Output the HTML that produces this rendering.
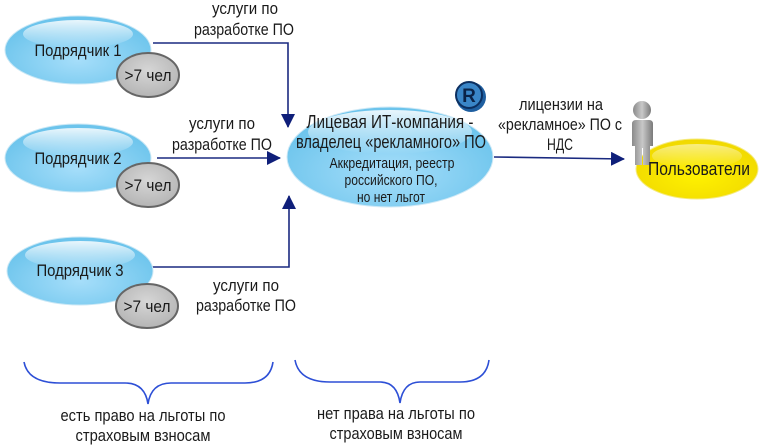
<!DOCTYPE html>
<html><head><meta charset="utf-8"><style>
html,body{margin:0;padding:0;background:#fff;}
svg{display:block;}
text{font-family:"Liberation Sans",sans-serif;fill:#1a1a1a;}
</style></head><body>
<svg width="768" height="448" viewBox="0 0 768 448" xmlns="http://www.w3.org/2000/svg">
<defs>
<radialGradient id="blue" cx="50%" cy="65%" r="60%">
<stop offset="0" stop-color="#a6defa"/><stop offset="1" stop-color="#6cc4ec"/></radialGradient>
<linearGradient id="gloss" x1="0" y1="0" x2="0" y2="1">
<stop offset="0" stop-color="#fff" stop-opacity="0.85"/><stop offset="1" stop-color="#fff" stop-opacity="0"/></linearGradient>
<radialGradient id="yel" cx="50%" cy="60%" r="60%">
<stop offset="0" stop-color="#fff200"/><stop offset="1" stop-color="#f0d800"/></radialGradient>
<radialGradient id="gray" cx="50%" cy="40%" r="60%">
<stop offset="0" stop-color="#d6d6d6"/><stop offset="1" stop-color="#b5b5b5"/></radialGradient>
<linearGradient id="body" x1="0" y1="0" x2="1" y2="0">
<stop offset="0" stop-color="#8a8a8a"/><stop offset="0.5" stop-color="#c8c8c8"/><stop offset="1" stop-color="#7a7a7a"/></linearGradient>
<marker id="ahv" viewBox="0 0 14 14" markerWidth="14" markerHeight="14" refX="13" refY="7" orient="auto" markerUnits="userSpaceOnUse">
<path d="M0,0 L14,7 L0,14 Z" fill="#0f1f7a"/></marker>
</defs>

<g stroke="#1a2a80" stroke-width="1.6" fill="none">
<polyline points="153,43 288,43 288,127" marker-end="url(#ahv)"/>
<line x1="157" y1="158" x2="280" y2="158" marker-end="url(#ahv)"/>
<polyline points="152,267 289,267 289,196" marker-end="url(#ahv)"/>
<line x1="494" y1="157" x2="624" y2="159" marker-end="url(#ahv)"/>
</g>

<g font-size="17" text-anchor="middle" lengthAdjust="spacingAndGlyphs">
<ellipse cx="78" cy="50" rx="73" ry="34" fill="url(#blue)" stroke="#c9e7f5" stroke-width="1"/>
<ellipse cx="78" cy="34" rx="55" ry="14" fill="url(#gloss)"/>
<text x="78" y="56" textLength="87" lengthAdjust="spacingAndGlyphs">Подрядчик 1</text>
<ellipse cx="148" cy="75" rx="31" ry="22" fill="url(#gray)" stroke="#666" stroke-width="2"/>
<text x="148" y="81" textLength="47" lengthAdjust="spacingAndGlyphs">&gt;7 чел</text>

<ellipse cx="78" cy="158" rx="73" ry="34" fill="url(#blue)" stroke="#c9e7f5" stroke-width="1"/>
<ellipse cx="78" cy="142" rx="55" ry="14" fill="url(#gloss)"/>
<text x="78" y="164" textLength="87" lengthAdjust="spacingAndGlyphs">Подрядчик 2</text>
<ellipse cx="148" cy="185" rx="31" ry="22" fill="url(#gray)" stroke="#666" stroke-width="2"/>
<text x="148" y="191" textLength="47" lengthAdjust="spacingAndGlyphs">&gt;7 чел</text>

<ellipse cx="80" cy="271" rx="73" ry="34" fill="url(#blue)" stroke="#c9e7f5" stroke-width="1"/>
<ellipse cx="80" cy="255" rx="55" ry="14" fill="url(#gloss)"/>
<text x="80" y="276" textLength="87" lengthAdjust="spacingAndGlyphs">Подрядчик 3</text>
<ellipse cx="147" cy="306" rx="31" ry="22" fill="url(#gray)" stroke="#666" stroke-width="2"/>
<text x="147" y="312" textLength="47" lengthAdjust="spacingAndGlyphs">&gt;7 чел</text>

<text x="245" y="14" textLength="66" lengthAdjust="spacingAndGlyphs">услуги по</text>
<text x="244" y="35" textLength="100" lengthAdjust="spacingAndGlyphs">разработке ПО</text>
<text x="222" y="129" textLength="66" lengthAdjust="spacingAndGlyphs">услуги по</text>
<text x="222" y="150" textLength="100" lengthAdjust="spacingAndGlyphs">разработке ПО</text>
<text x="246" y="291" textLength="66" lengthAdjust="spacingAndGlyphs">услуги по</text>
<text x="246" y="311" textLength="100" lengthAdjust="spacingAndGlyphs">разработке ПО</text>
<text x="561" y="110" textLength="84" lengthAdjust="spacingAndGlyphs">лицензии на</text>
<text x="560" y="130" textLength="124" lengthAdjust="spacingAndGlyphs">«рекламное» ПО с</text>
<text x="560" y="150" textLength="26" lengthAdjust="spacingAndGlyphs">НДС</text>

<ellipse cx="390" cy="157" rx="103" ry="50" fill="url(#blue)" stroke="#cfe9f6" stroke-width="1"/>
<ellipse cx="390" cy="132" rx="82" ry="22" fill="url(#gloss)"/>
<text x="390" y="128" font-size="18" textLength="167" lengthAdjust="spacingAndGlyphs">Лицевая ИТ-компания -</text>
<text x="391" y="148" font-size="18" textLength="190" lengthAdjust="spacingAndGlyphs">владелец «рекламного» ПО</text>
<text x="392" y="168" font-size="15" textLength="125" lengthAdjust="spacingAndGlyphs">Аккредитация, реестр</text>
<text x="391" y="185" font-size="15" textLength="93" lengthAdjust="spacingAndGlyphs">российского ПО,</text>
<text x="391" y="202" font-size="15" textLength="68" lengthAdjust="spacingAndGlyphs">но нет льгот</text>

<circle cx="471" cy="97" r="15" fill="#1f5fa0"/>
<circle cx="469" cy="95" r="13" fill="#3a86c8" stroke="#0c2f60" stroke-width="2"/>
<text x="469" y="102" font-size="19" font-weight="bold" style="fill:#0a2348">R</text>

<ellipse cx="697" cy="169" rx="61" ry="30" fill="url(#yel)" stroke="#f5ea80" stroke-width="1"/>
<ellipse cx="697" cy="156" rx="45" ry="12" fill="url(#gloss)" opacity="0.6"/>
<circle cx="642" cy="110" r="9" fill="url(#body)"/>
<path d="M632,124 Q632,120 636,120 L649,120 Q653,120 653,124 L653,146 L650,146 L650,165 L643,165 L643,148 L642,148 L642,165 L635,165 L635,146 L632,146 Z" fill="url(#body)"/>
<text x="699" y="175" font-size="18" textLength="102" lengthAdjust="spacingAndGlyphs">Пользователи</text>

<g stroke="#2d4fd6" stroke-width="1.6" fill="none">
<path d="M24,362 Q28,383 60,383 L125,383 Q145,383 148,404 Q151,383 171,383 L245,383 Q270,383 273,362"/>
<path d="M295,360 Q299,382 330,382 L380,382 Q397,382 400,403 Q403,382 420,382 L460,382 Q486,382 489,360"/>
</g>
<text x="143" y="421" textLength="165" lengthAdjust="spacingAndGlyphs">есть право на льготы по</text>
<text x="143" y="441" textLength="135" lengthAdjust="spacingAndGlyphs">страховым взносам</text>
<text x="396" y="419" textLength="158" lengthAdjust="spacingAndGlyphs">нет права на льготы по</text>
<text x="396" y="439" textLength="133" lengthAdjust="spacingAndGlyphs">страховым взносам</text>
</g>
</svg>
</body></html>
